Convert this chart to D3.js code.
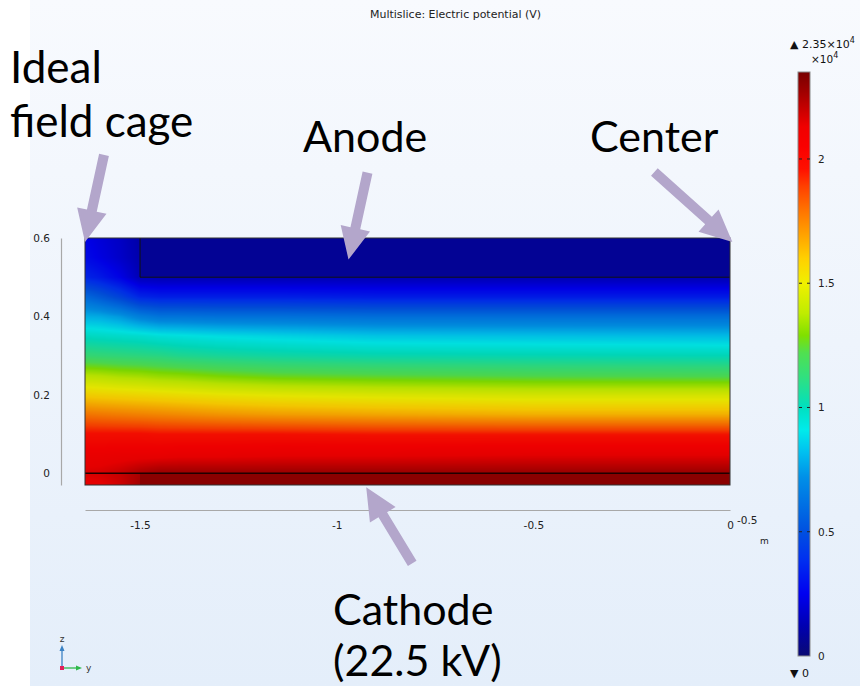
<!DOCTYPE html>
<html><head><meta charset="utf-8">
<script src="https://cdn.jsdelivr.net/npm/d3@7"></script>
<style>body{margin:0;background:#fff}svg{display:block}</style>
</head><body><div id="chart"></div>
<script>
// ---------- data ----------
const title = "Multislice: Electric potential (V)";
const yTicks = [-1.5, -1, -0.5, 0];          // horizontal axis (y, m)
const zTicks = [0, 0.2, 0.4, 0.6];           // vertical axis (z, m)
const cbTicks = [0, 0.5, 1, 1.5, 2];         // colour bar, ×10^4 V
const cbMin = 0, cbMax = 2.35;               // ×10^4 V
const yDomain = [-1.64, 0];
const zDomain = [-0.03, 0.6];
const anodeEdgeY = -1.5, anodeBottomZ = 0.5, cathodeZ = 0;
const anodeV = 0.08, cathodeV = 2.3;         // ×10^4 V

// potential samples (×10^4 V), per y column, at zLevels
const zLevels  = [-0.03, 0, 0.05, 0.1, 0.15, 0.2, 0.25, 0.3, 0.35, 0.4, 0.45, 0.5, 0.55, 0.6];
const yColumns = [-1.64, -1.6, -1.55, -1.5, -1.45, -1.4, -1.3, -1.15, -0.9, -0.5, 0];
const potCol_164 = [2.10, 2.15, 2.08, 1.97, 1.78, 1.58, 1.38, 1.14, 0.98, 0.80, 0.60, 0.36, 0.28, 0.26];
const potCol_160 = [2.12, 2.16, 2.08, 1.97, 1.77, 1.57, 1.37, 1.13, 0.97, 0.79, 0.54, 0.32, 0.24, 0.22];
const potCol_155 = [2.17, 2.19, 2.09, 1.97, 1.76, 1.56, 1.35, 1.12, 0.96, 0.75, 0.46, 0.25, 0.19, 0.18];
const potCol_150 = [2.25, 2.24, 2.09, 1.97, 1.75, 1.55, 1.34, 1.11, 0.95, 0.68, 0.36, 0.15, 0.13, 0.12];
const potCol_145 = [2.30, 2.27, 2.09, 1.96, 1.74, 1.54, 1.32, 1.10, 0.93, 0.64, 0.34, 0.14, 0.08, 0.08];
const potCol_140 = [2.30, 2.27, 2.10, 1.96, 1.73, 1.53, 1.31, 1.08, 0.92, 0.64, 0.34, 0.14, 0.08, 0.08];
const potCol_130 = [2.30, 2.27, 2.10, 1.96, 1.71, 1.51, 1.28, 1.06, 0.90, 0.63, 0.34, 0.14, 0.08, 0.08];
const potCol_115 = [2.30, 2.27, 2.11, 1.96, 1.69, 1.49, 1.25, 1.04, 0.88, 0.63, 0.34, 0.14, 0.08, 0.08];
const potCol_090 = [2.30, 2.27, 2.11, 1.95, 1.67, 1.47, 1.23, 1.02, 0.85, 0.62, 0.33, 0.14, 0.08, 0.08];
const potCol_050 = [2.30, 2.27, 2.12, 1.95, 1.65, 1.45, 1.21, 1.01, 0.84, 0.62, 0.33, 0.14, 0.08, 0.08];
const potCol_000 = [2.30, 2.27, 2.12, 1.95, 1.65, 1.45, 1.20, 1.00, 0.83, 0.62, 0.33, 0.14, 0.08, 0.08];
const potGrid = [potCol_164, potCol_160, potCol_155, potCol_150, potCol_145, potCol_140,
                 potCol_130, potCol_115, potCol_090, potCol_050, potCol_000];

// colour table (Rainbow)
const cmapStops  = [0, 0.12, 0.25, 0.39, 0.5, 0.72, 0.82, 0.91, 1.0, 1.12, 1.22, 1.29, 1.38, 1.5, 1.6, 1.7, 1.8, 1.89, 1.96, 2.05, 2.13, 2.2, 2.27, 2.35];
const cmapColors = ["#0a0a73","#0000b0","#0000f0","#0030f0","#0050e0","#0090e8","#00c0f0","#00ebeb","#00e0c0","#30e080","#50e050","#80e000","#c0ec00","#f0f000","#ffd000","#ffa000","#ff7000","#ff4000","#ff1000","#fa0000","#f00000","#c80000","#a00000","#780000"];

// annotations
const notes = [
  {lines:["Ideal","field cage"], x:10, y:83, dy:54, size:44},
  {lines:["Anode"], x:303, y:152, dy:0, size:43},
  {lines:["Center"], x:590, y:152, dy:0, size:43},
  {lines:["Cathode","(22.5 kV)"], x:333, y:625, dy:51, size:43}
];
const arrows = [
  {ty:-1.64, tz:0.59, dx:19, dy:-87},
  {ty:-0.97, tz:0.545, dx:19, dy:-87},
  {ty:0.006, tz:0.59, dx:-78, dy:-70},
  {ty:-0.925, tz:-0.036, dx:46, dy:76}
];

// ---------- drawing ----------
const W = 860, H = 686;
const svg = d3.select("#chart").append("svg").attr("width", W).attr("height", H);
const defs = svg.append("defs");

const bg = defs.append("linearGradient").attr("id","bg").attr("x1",0).attr("y1",0).attr("x2",0).attr("y2",1);
bg.append("stop").attr("offset",0).attr("stop-color","#f8fafe");
bg.append("stop").attr("offset",1).attr("stop-color","#e4eefa");
svg.append("rect").attr("x",30).attr("y",0).attr("width",W-30).attr("height",H).attr("fill","url(#bg)");

const xs = d3.scaleLinear().domain(yDomain).range([85, 730]);
const zs = d3.scaleLinear().domain(zDomain).range([485, 238]);
const cmap = d3.scaleLinear().domain(cmapStops).range(cmapColors).interpolate(d3.interpolateRgb).clamp(true);

function potentialAt(y, z) {
  if (y >= anodeEdgeY && z >= anodeBottomZ) return anodeV;
  if (y >= anodeEdgeY && z < cathodeZ) return cathodeV;
  let i = d3.bisectRight(yColumns, y) - 1; i = Math.max(0, Math.min(yColumns.length - 2, i));
  let j = d3.bisectRight(zLevels, z) - 1; j = Math.max(0, Math.min(zLevels.length - 2, j));
  const ty = Math.max(0, Math.min(1, (y - yColumns[i]) / (yColumns[i+1] - yColumns[i])));
  const tz = Math.max(0, Math.min(1, (z - zLevels[j]) / (zLevels[j+1] - zLevels[j])));
  const a = potGrid[i][j] * (1 - tz) + potGrid[i][j+1] * tz;
  const b = potGrid[i+1][j] * (1 - tz) + potGrid[i+1][j+1] * tz;
  return a * (1 - ty) + b * ty;
}

// field raster
const px0 = xs(yDomain[0]), px1 = xs(yDomain[1]), py0 = zs(zDomain[1]), py1 = zs(zDomain[0]);
const cw = Math.round(px1 - px0), ch = Math.round(py1 - py0);
const cv = document.createElement("canvas"); cv.width = cw; cv.height = ch;
const ctx = cv.getContext("2d");
const img = ctx.createImageData(cw, ch);
const shade = 0.95;
for (let j = 0; j < ch; j++) {
  const z = zs.invert(py0 + j + 0.5);
  for (let i = 0; i < cw; i++) {
    const y = xs.invert(px0 + i + 0.5);
    const c = d3.rgb(cmap(potentialAt(y, z)));
    const k = (j * cw + i) * 4;
    img.data[k] = c.r * shade; img.data[k+1] = c.g * shade; img.data[k+2] = c.b * shade; img.data[k+3] = 255;
  }
}
ctx.putImageData(img, 0, 0);
svg.append("image").attr("x", px0).attr("y", py0).attr("width", cw).attr("height", ch)
  .attr("preserveAspectRatio","none").attr("href", cv.toDataURL());

// geometry edges
svg.append("path").attr("fill","none").attr("stroke","#111").attr("stroke-width",1)
  .attr("d", `M${xs(anodeEdgeY)},${zs(zDomain[1])}V${zs(anodeBottomZ)}H${xs(0)}`);
svg.append("line").attr("x1", xs(yDomain[0])).attr("x2", xs(0)).attr("y1", zs(cathodeZ)).attr("y2", zs(cathodeZ))
  .attr("stroke","#200000").attr("stroke-width",1.6);
svg.append("rect").attr("x",px0).attr("y",py0).attr("width",cw).attr("height",ch)
  .attr("fill","none").attr("stroke","#333").attr("stroke-width",1);

// axes
const axFont = "DejaVu Sans, sans-serif";
const fmt = d => String(d);
const gy = svg.append("g").attr("transform","translate(61,0)")
  .call(d3.axisLeft(zs).tickValues(zTicks).tickSize(0).tickPadding(11).tickFormat(fmt));
const gx = svg.append("g").attr("transform","translate(0,510)")
  .call(d3.axisBottom(xs).tickValues(yTicks).tickSize(0).tickPadding(12).tickFormat(fmt));
[gy, gx].forEach(g => {
  g.select(".domain").attr("stroke","#a8a8a8").attr("stroke-width",1.2);
  g.selectAll("text").attr("font-family",axFont).attr("font-size",10.5).attr("fill","#222");
});
svg.append("text").attr("x",737).attr("y",524).attr("font-family",axFont).attr("font-size",10.5).attr("fill","#222").text("-0.5");
svg.append("text").attr("x",760).attr("y",544).attr("font-family",axFont).attr("font-size",9).attr("fill","#222").text("m");

// title
svg.append("text").attr("x",370).attr("y",18)
  .attr("font-family","DejaVu Sans Condensed, Liberation Sans, sans-serif").attr("font-size",11)
  .attr("textLength",171).attr("lengthAdjust","spacingAndGlyphs").attr("fill","#222").text(title);

// colour bar
const cbs = d3.scaleLinear().domain([cbMin, cbMax]).range([656, 72]);
const grad = defs.append("linearGradient").attr("id","cb").attr("x1",0).attr("y1",1).attr("x2",0).attr("y2",0);
cmapStops.forEach((s, i) => grad.append("stop").attr("offset", (s - cbMin) / (cbMax - cbMin)).attr("stop-color", cmapColors[i]));
svg.append("rect").attr("x",798).attr("y",cbs(cbMax)).attr("width",12).attr("height",cbs(cbMin)-cbs(cbMax))
  .attr("fill","url(#cb)").attr("stroke","#8a8a8a").attr("stroke-width",1);
const gc = svg.append("g").attr("transform","translate(811,0)")
  .call(d3.axisRight(cbs).tickValues(cbTicks).tickSize(0).tickPadding(7).tickFormat(fmt));
gc.select(".domain").remove();
gc.selectAll("text").attr("font-family",axFont).attr("font-size",10.5).attr("fill","#222");
cbTicks.filter(t => t > cbMin).forEach(t => {
  [[799,802],[807,810]].forEach(([a,b]) => svg.append("line").attr("x1",a).attr("x2",b)
    .attr("y1",cbs(t)).attr("y2",cbs(t)).attr("stroke","#222").attr("stroke-width",1));
});
const cbTop = svg.append("text").attr("x",790).attr("y",48).attr("font-family",axFont).attr("font-size",11).attr("fill","#111");
cbTop.append("tspan").text("▲ 2.35×10");
cbTop.append("tspan").attr("dy",-5).attr("font-size",8).text("4");
const cbMult = svg.append("text").attr("x",811).attr("y",63).attr("font-family",axFont).attr("font-size",10.5).attr("fill","#111");
cbMult.append("tspan").text("×10");
cbMult.append("tspan").attr("dy",-5).attr("font-size",8).text("4");
svg.append("text").attr("x",790).attr("y",677).attr("font-family",axFont).attr("font-size",11).attr("fill","#111").text("▼ 0");

// axis triad
const tri = svg.append("g");
tri.append("line").attr("x1",62).attr("y1",668).attr("x2",62).attr("y2",650).attr("stroke","#3b82c4").attr("stroke-width",1.3);
tri.append("path").attr("d","M62,645L59.5,651H64.5Z").attr("fill","#3b82c4");
tri.append("line").attr("x1",62).attr("y1",668).attr("x2",77).attr("y2",668).attr("stroke","#2db84a").attr("stroke-width",1.3);
tri.append("path").attr("d","M82,668L76,665.5V670.5Z").attr("fill","#2db84a");
tri.append("rect").attr("x",60).attr("y",666).attr("width",4).attr("height",4).attr("fill","#e0205a");
tri.append("text").attr("x",62).attr("y",642).attr("text-anchor","middle").attr("font-family",axFont).attr("font-size",9).attr("fill","#333").text("z");
tri.append("text").attr("x",86).attr("y",671).attr("font-family",axFont).attr("font-size",9).attr("fill","#333").text("y");

// arrows
function arrowPath(x1, y1, x2, y2, sw, hw, hl) {
  const dx = x2 - x1, dy = y2 - y1, L = Math.hypot(dx, dy);
  const ux = dx / L, uy = dy / L, nx = -uy, ny = ux;
  const bx = x2 - ux * hl, by = y2 - uy * hl;
  const p = [[x1 + nx*sw/2, y1 + ny*sw/2], [bx + nx*sw/2, by + ny*sw/2], [bx + nx*hw/2, by + ny*hw/2],
             [x2, y2], [bx - nx*hw/2, by - ny*hw/2], [bx - nx*sw/2, by - ny*sw/2], [x1 - nx*sw/2, y1 - ny*sw/2]];
  return "M" + p.map(q => q.join(",")).join("L") + "Z";
}
arrows.forEach(a => {
  const tx = xs(a.ty), ty = zs(a.tz);
  svg.append("path").attr("d", arrowPath(tx + a.dx, ty + a.dy, tx, ty, 10, 30, 32)).attr("fill","#b3a6cb");
});

// annotation text
notes.forEach(n => {
  const t = svg.append("text").attr("font-family","Lato, sans-serif").attr("font-size",n.size).attr("fill","#000");
  n.lines.forEach((l, i) => t.append("tspan").attr("x", n.x).attr("y", n.y + i * n.dy).text(l));
});
</script>
</body></html>
